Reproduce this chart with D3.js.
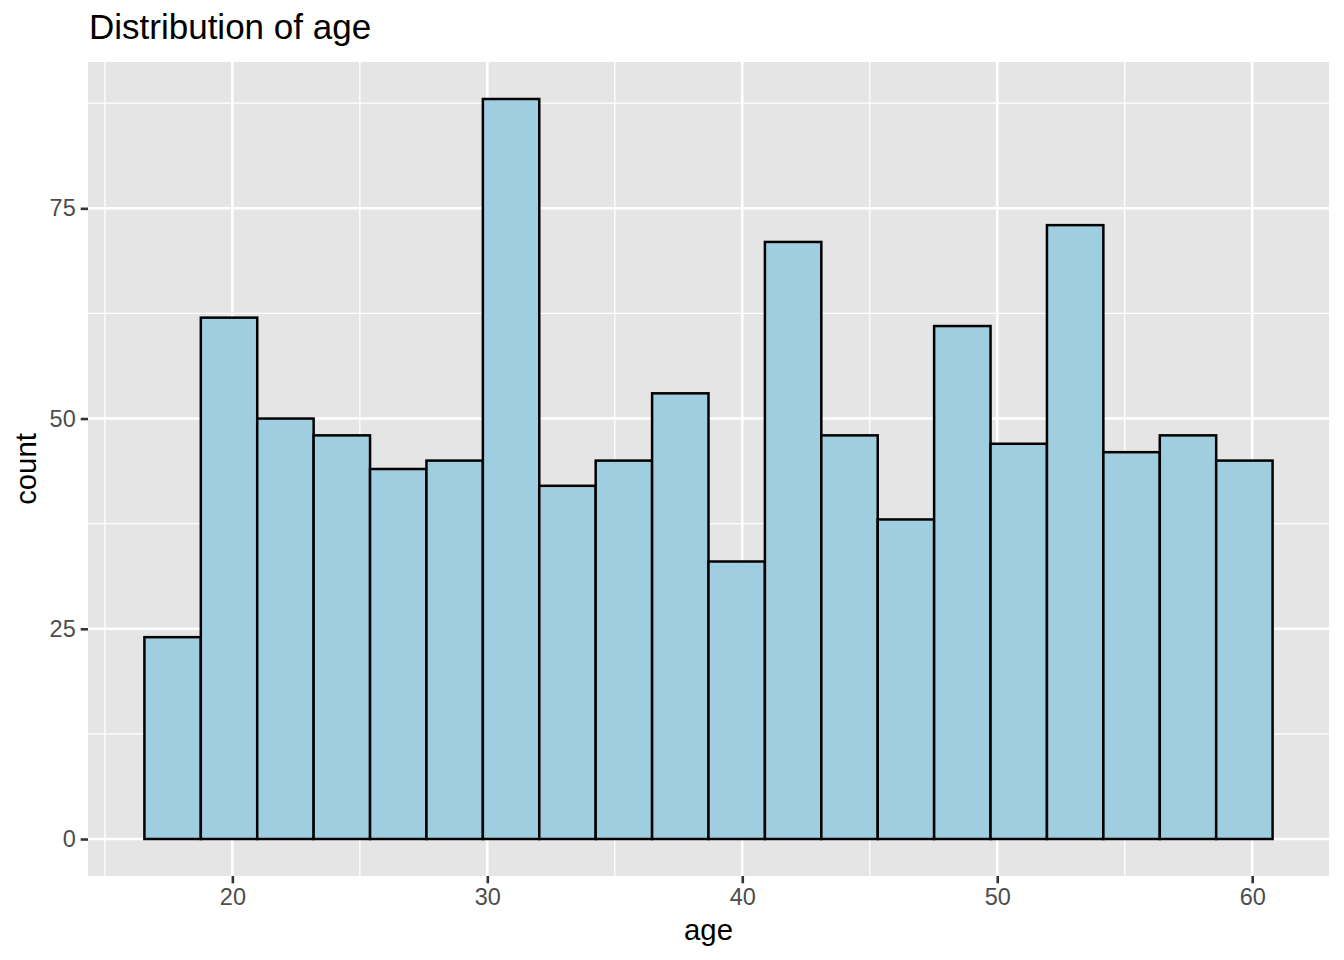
<!DOCTYPE html>
<html>
<head>
<meta charset="utf-8">
<script src="https://cdn.jsdelivr.net/npm/d3@7"></script>
<style>
  html, body { margin: 0; padding: 0; background: #fff; }
  svg { display: block; font-family: "Liberation Sans", Arial, Helvetica, sans-serif; }
</style>
</head>
<body>
<svg id="chart" width="1344" height="960"></svg>
<script>
// ---- data ----
const binStart = 16.55;
const binWidth = 2.2125;
const counts = [24, 62, 50, 48, 44, 45, 88, 42, 45, 53, 33, 71, 48, 38, 61, 47, 73, 46, 48, 45];
const xTicks = [20, 30, 40, 50, 60];
const xMinor = [15, 25, 35, 45, 55];
const yTicks = [0, 25, 50, 75];
const yMinor = [12.5, 37.5, 62.5, 87.5];
const titleText = "Distribution of age";
const xLabel = "age";
const yLabel = "count";

const bins = counts.map((c, i) => ({ x0: binStart + i * binWidth, x1: binStart + (i + 1) * binWidth, count: c }));

// ---- layout ----
const panel = { left: 88, right: 1329, top: 62, bottom: 876 };
const svg = d3.select("#chart");

const xMinD = binStart, xMaxD = binStart + counts.length * binWidth;
const xPad = (xMaxD - xMinD) * 0.05;
const x = d3.scaleLinear().domain([xMinD - xPad, xMaxD + xPad]).range([panel.left, panel.right]);
const yMax = d3.max(counts);
const yPad = yMax * 0.05;
const y = d3.scaleLinear().domain([-yPad, yMax + yPad]).range([panel.bottom, panel.top]);

// panel background
svg.append("rect")
  .attr("x", panel.left).attr("y", panel.top)
  .attr("width", panel.right - panel.left).attr("height", panel.bottom - panel.top)
  .attr("fill", "#E5E5E5");

const grid = svg.append("g");
// minor gridlines
grid.selectAll(".xm").data(xMinor).join("line")
  .attr("x1", d => x(d)).attr("x2", d => x(d))
  .attr("y1", panel.top).attr("y2", panel.bottom)
  .attr("stroke", "#fff").attr("stroke-width", 1.3);
grid.selectAll(".ym").data(yMinor).join("line")
  .attr("y1", d => y(d)).attr("y2", d => y(d))
  .attr("x1", panel.left).attr("x2", panel.right)
  .attr("stroke", "#fff").attr("stroke-width", 1.3);
// major gridlines
grid.selectAll(".xM").data(xTicks).join("line")
  .attr("x1", d => x(d)).attr("x2", d => x(d))
  .attr("y1", panel.top).attr("y2", panel.bottom)
  .attr("stroke", "#fff").attr("stroke-width", 2.6);
grid.selectAll(".yM").data(yTicks).join("line")
  .attr("y1", d => y(d)).attr("y2", d => y(d))
  .attr("x1", panel.left).attr("x2", panel.right)
  .attr("stroke", "#fff").attr("stroke-width", 2.6);

// bars
svg.append("g").selectAll("rect").data(bins).join("rect")
  .attr("x", d => x(d.x0))
  .attr("y", d => y(d.count))
  .attr("width", d => x(d.x1) - x(d.x0))
  .attr("height", d => y(0) - y(d.count))
  .attr("fill", "#9FCEE0")
  .attr("stroke", "#000")
  .attr("stroke-width", 2.5);

// axes
const xAxis = d3.axisBottom(x).tickValues(xTicks).tickSize(7.3).tickPadding(5);
const gx = svg.append("g").attr("transform", `translate(0,${panel.bottom})`).call(xAxis);
const yAxis = d3.axisLeft(y).tickValues(yTicks).tickSize(7.3).tickPadding(5);
const gy = svg.append("g").attr("transform", `translate(${panel.left},0)`).call(yAxis);

[gx, gy].forEach(g => {
  g.select(".domain").remove();
  g.selectAll(".tick line").attr("stroke", "#333").attr("stroke-width", 2.6);
  g.selectAll(".tick text").attr("fill", "#4D4D4D").attr("font-size", 23.5)
    .attr("font-family", "Liberation Sans, Arial, sans-serif");
});

// title and axis labels
svg.append("text").attr("x", 89).attr("y", 39)
  .attr("font-size", 35).attr("fill", "#000").text(titleText);
svg.append("text").attr("x", (panel.left + panel.right) / 2).attr("y", 940)
  .attr("text-anchor", "middle").attr("font-size", 29.3).attr("fill", "#000").text(xLabel);
svg.append("text")
  .attr("transform", `translate(36,${(panel.top + panel.bottom) / 2}) rotate(-90)`)
  .attr("text-anchor", "middle").attr("font-size", 29.3).attr("fill", "#000").text(yLabel);
</script>
</body>
</html>
